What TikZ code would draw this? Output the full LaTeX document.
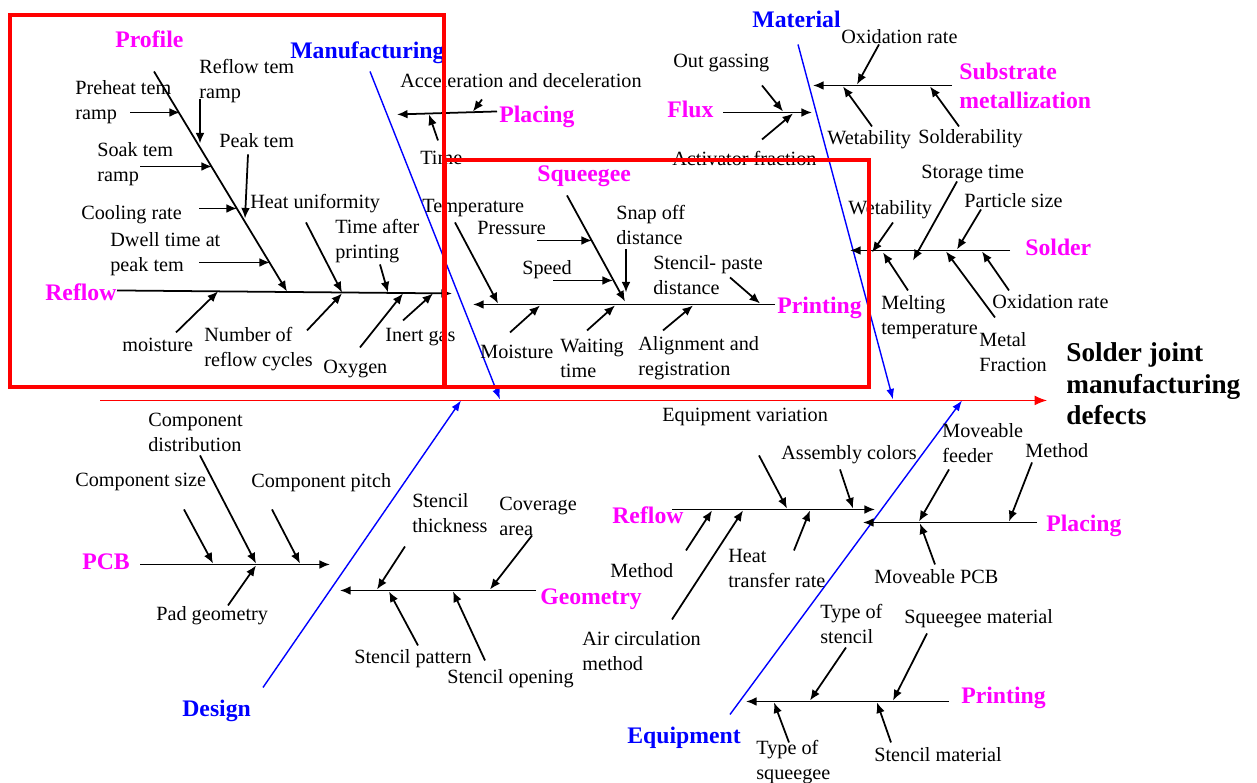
\documentclass[tikz,border=0pt]{standalone}
\usepackage{fontspec}
\setmainfont{Liberation Serif}
\usetikzlibrary{arrows.meta}
\definecolor{catmagenta}{RGB}{255,0,255}
\definecolor{bonecolor}{RGB}{0,0,255}

\begin{document}
\begin{tikzpicture}[x=0.02cm, y=-0.02cm,
	every node/.style={inner sep=0pt, anchor=west, align=left, yshift=-1.4pt, font=\fontsize{11.5}{14.2}\selectfont},
	cause/.style={draw, black, line width=1pt, -{Latex[length=6pt,width=5pt]}},
	bone/.style={draw, bonecolor, line width=0.8pt, -{Latex[length=6pt,width=4.5pt]}},
	subcat/.style={text=catmagenta, font=\fontsize{13.5}{16.4}\selectfont\bfseries},
	maincat/.style={text=bonecolor, font=\fontsize{13.5}{16}\selectfont\bfseries},
	redframe/.style={draw, red, line width=2.2pt}]

	%Bounding box
	\useasboundingbox (0,0) rectangle (1257,783);

	%Spine and effect
	\coordinate (sp-a) at (100,398); \coordinate (sp-b) at (1047,398);
	\draw[red, line width=0.6pt, -{Latex[length=7pt,width=5.5pt]}] (sp-a) -- (sp-b);
	\node[yshift=1.4pt, font=\fontsize{15.5}{18}\selectfont\bfseries] (effect) at (1066,384) {Solder joint\\ manufacturing\\ defects};

	%Main bones
	\coordinate (mf-a) at (370,69); \coordinate (mf-b) at (500,397);
	\draw[bone] (mf-a) -- (mf-b);
	\node[maincat] (manuf) at (290,50) {Manufacturing};
	\coordinate (mt-a) at (798,42); \coordinate (mt-b) at (893,397);
	\draw[bone] (mt-a) -- (mt-b);
	\node[maincat] (mater) at (752,17) {Material};
	\coordinate (dg-a) at (263,685); \coordinate (dg-b) at (461,398);
	\draw[bone] (dg-a) -- (dg-b);
	\node[maincat] (design) at (182,708) {Design};
	\coordinate (eq-a) at (730,712); \coordinate (eq-b) at (962,398);
	\draw[bone] (eq-a) -- (eq-b);
	\node[maincat] (equip) at (627,735) {Equipment};

	%Reflow (manufacturing)
	\coordinate (rf-a) at (117,288); \coordinate (rf-b) at (452,291);
	\draw[cause] (rf-a) -- (rf-b);
	\node[subcat] (reflow) at (45,290) {Reflow};
	\coordinate (pf-a) at (154,69); \coordinate (pf-b) at (287,289);
	\draw[cause] (pf-a) -- (pf-b);
	\node[subcat] (profile) at (115,37) {Profile};

	\node (preheat) at (75,99.5) {Preheat tem\\ ramp};
	\coordinate (ph-a) at (130,110); \coordinate (ph-b) at (180,110); \draw[cause] (ph-a) -- (ph-b);
	\node (rframp) at (199,79) {Reflow tem\\ ramp};
	\coordinate (rr-a) at (200,97); \coordinate (rr-b) at (200,141); \draw[cause] (rr-a) -- (rr-b);
	\node (soak) at (97,161.5) {Soak tem\\ ramp};
	\coordinate (sk-a) at (140,164); \coordinate (sk-b) at (212,164); \draw[cause] (sk-a) -- (sk-b);
	\node (peak) at (219,138) {Peak tem};
	\coordinate (pk-a) at (248,152); \coordinate (pk-b) at (245,216); \draw[cause] (pk-a) -- (pk-b);
	\node (cooling) at (81,212) {Cooling rate};
	\coordinate (cr-a) at (199,206); \coordinate (cr-b) at (237,206); \draw[cause] (cr-a) -- (cr-b);
	\node (dwell) at (110,251.5) {Dwell time at\\ peak tem};
	\coordinate (dw-a) at (199,260); \coordinate (dw-b) at (270,260); \draw[cause] (dw-a) -- (dw-b);
	\node (heatu) at (250,201) {Heat uniformity};
	\coordinate (hu-a) at (306,220); \coordinate (hu-b) at (342,290); \draw[cause] (hu-a) -- (hu-b);
	\node (tafter) at (335,238.5) {Time after\\ printing};
	\coordinate (ta-a) at (380,262); \coordinate (ta-b) at (388,290); \draw[cause] (ta-a) -- (ta-b);
	\node (moist1) at (122,342) {moisture};
	\coordinate (m1-a) at (176,330); \coordinate (m1-b) at (218,289); \draw[cause] (m1-a) -- (m1-b);
	\node (cycles) at (204,347) {Number of\\ reflow cycles};
	\coordinate (nc-a) at (307,328); \coordinate (nc-b) at (342,291); \draw[cause] (nc-a) -- (nc-b);
	\node (oxygen) at (323,367) {Oxygen};
	\coordinate (ox-a) at (360,345); \coordinate (ox-b) at (403,291); \draw[cause] (ox-a) -- (ox-b);
	\node (inert) at (385,335) {Inert gas};
	\coordinate (ig-a) at (403,318); \coordinate (ig-b) at (433,291); \draw[cause] (ig-a) -- (ig-b);

	%Placing (manufacturing)
	\coordinate (pl-a) at (497,109); \coordinate (pl-b) at (397,112);
	\draw[cause] (pl-a) -- (pl-b);
	\node[subcat] (placing1) at (499,114) {Placing};
	\node (accel) at (400,78) {Acceleration and deceleration};
	\coordinate (ac-a) at (482,97); \coordinate (ac-b) at (473,109); \draw[cause] (ac-a) -- (ac-b);
	\node (ptime) at (420,155) {Time};
	\coordinate (tm-a) at (438,138); \coordinate (tm-b) at (429,112); \draw[cause] (tm-a) -- (tm-b);

	%Printing (manufacturing)
	\coordinate (pr-a) at (775,302); \coordinate (pr-b) at (473,302);
	\draw[cause] (pr-a) -- (pr-b);
	\node[subcat] (printing1) at (777,305) {Printing};
	\coordinate (sq-a) at (567,193); \coordinate (sq-b) at (625,299);
	\draw[cause] (sq-a) -- (sq-b);
	\node[subcat] (squeegee) at (537,174) {Squeegee};
	\node (pressure) at (477,226) {Pressure};
	\coordinate (ps-a) at (537,238); \coordinate (ps-b) at (592,238); \draw[cause] (ps-a) -- (ps-b);
	\node (speed) at (522,267) {Speed};
	\coordinate (sd-a) at (553,278); \coordinate (sd-b) at (613,278); \draw[cause] (sd-a) -- (sd-b);
	\node (snap) at (616,222.5) {Snap off\\ distance};
	\coordinate (so-a) at (626,247); \coordinate (so-b) at (626,290); \draw[cause] (so-a) -- (so-b);
	\node (temp) at (422,206) {Temperature};
	\coordinate (te-a) at (455,220); \coordinate (te-b) at (498,301); \draw[cause] (te-a) -- (te-b);
	\node (stpaste) at (653,272.5) {Stencil- paste\\ distance};
	\coordinate (sp2-a) at (730,275); \coordinate (sp2-b) at (760,301); \draw[cause] (sp2-a) -- (sp2-b);
	\node (moist2) at (480,349) {Moisture};
	\coordinate (m2-a) at (510,330); \coordinate (m2-b) at (540,303); \draw[cause] (m2-a) -- (m2-b);
	\node (waiting) at (560,355.5) {Waiting\\ time};
	\coordinate (wt-a) at (587,328); \coordinate (wt-b) at (615,303); \draw[cause] (wt-a) -- (wt-b);
	\node (align) at (638,355.5) {Alignment and\\ registration};
	\coordinate (al-a) at (663,328); \coordinate (al-b) at (693,303); \draw[cause] (al-a) -- (al-b);

	%Flux (material)
	\coordinate (fx-a) at (723,110); \coordinate (fx-b) at (812,110);
	\draw[cause] (fx-a) -- (fx-b);
	\node[subcat] (flux) at (667,107) {Flux};
	\node (outgas) at (673,61) {Out gassing};
	\coordinate (og-a) at (762,83); \coordinate (og-b) at (783,109); \draw[cause] (og-a) -- (og-b);
	\node (activ) at (672,156) {Activator fraction};
	\coordinate (af-a) at (762,137); \coordinate (af-b) at (793,111); \draw[cause] (af-a) -- (af-b);

	%Substrate metallization (material)
	\coordinate (sb-a) at (952,83); \coordinate (sb-b) at (813,83);
	\draw[cause] (sb-a) -- (sb-b);
	\node[subcat] (substrate) at (959,83.5) {Substrate\\ metallization};
	\node (oxid1) at (841,34) {Oxidation rate};
	\coordinate (o1-a) at (879,42); \coordinate (o1-b) at (857,82); \draw[cause] (o1-a) -- (o1-b);
	\node (wet1) at (827,137) {Wetability};
	\coordinate (w1-a) at (872,124); \coordinate (w1-b) at (843,84); \draw[cause] (w1-a) -- (w1-b);
	\node (solderab) at (918,136) {Solderability};
	\coordinate (sa-a) at (959,124); \coordinate (sa-b) at (930,84); \draw[cause] (sa-a) -- (sa-b);

	%Solder (material)
	\coordinate (sl-a) at (1010,248); \coordinate (sl-b) at (850,248);
	\draw[cause] (sl-a) -- (sl-b);
	\node[subcat] (solder) at (1025,245) {Solder};
	\node (storage) at (921,172) {Storage time};
	\coordinate (st-a) at (957,179); \coordinate (st-b) at (913,258); \draw[cause] (st-a) -- (st-b);
	\node (particle) at (964,198) {Particle size};
	\coordinate (pa-a) at (981,207); \coordinate (pa-b) at (957,247); \draw[cause] (pa-a) -- (pa-b);
	\node (wet2) at (848,207) {Wetability};
	\coordinate (w2-a) at (893,220); \coordinate (w2-b) at (872,250); \draw[cause] (w2-a) -- (w2-b);
	\node (melting) at (881,314.5) {Melting\\ temperature};
	\coordinate (me-a) at (908,288); \coordinate (me-b) at (883,250); \draw[cause] (me-a) -- (me-b);
	\node (oxid2) at (992,299) {Oxidation rate};
	\coordinate (o2-a) at (1009,288); \coordinate (o2-b) at (982,249); \draw[cause] (o2-a) -- (o2-b);
	\node (metal) at (979,350) {Metal\\ Fraction};
	\coordinate (mf2-a) at (995,315); \coordinate (mf2-b) at (946,249); \draw[cause] (mf2-a) -- (mf2-b);

	%PCB (design)
	\coordinate (pc-a) at (140,562); \coordinate (pc-b) at (330,562);
	\draw[cause] (pc-a) -- (pc-b);
	\node[subcat] (pcb) at (82,559) {PCB};
	\node (compdist) at (148,430) {Component\\ distribution};
	\coordinate (cd-a) at (200,453); \coordinate (cd-b) at (256,561); \draw[cause] (cd-a) -- (cd-b);
	\node (compsize) at (75,480) {Component size};
	\coordinate (cs-a) at (184,507); \coordinate (cs-b) at (213,561); \draw[cause] (cs-a) -- (cs-b);
	\node (comppitch) at (251,480) {Component pitch};
	\coordinate (cp-a) at (272,507); \coordinate (cp-b) at (300,561); \draw[cause] (cp-a) -- (cp-b);
	\node (pad) at (156,613) {Pad geometry};
	\coordinate (pg-a) at (228,603); \coordinate (pg-b) at (256,563); \draw[cause] (pg-a) -- (pg-b);

	%Geometry (design)
	\coordinate (ge-a) at (536,588); \coordinate (ge-b) at (340,588);
	\draw[cause] (ge-a) -- (ge-b);
	\node[subcat] (geometry) at (540,597) {Geometry};
	\node (thick) at (412,510.5) {Stencil\\ thickness};
	\coordinate (th-a) at (405,544); \coordinate (th-b) at (377,587); \draw[cause] (th-a) -- (th-b);
	\node (coverage) at (499,513.5) {Coverage\\ area};
	\coordinate (cv-a) at (532,533); \coordinate (cv-b) at (490,587); \draw[cause] (cv-a) -- (cv-b);
	\node (pattern) at (354,656) {Stencil pattern};
	\coordinate (pt-a) at (418,643); \coordinate (pt-b) at (389,589); \draw[cause] (pt-a) -- (pt-b);
	\node (opening) at (447,676) {Stencil opening};
	\coordinate (op-a) at (485,658); \coordinate (op-b) at (453,589); \draw[cause] (op-a) -- (op-b);

	%Reflow (equipment)
	\coordinate (rf2-a) at (672,507); \coordinate (rf2-b) at (875,507);
	\draw[cause] (rf2-a) -- (rf2-b);
	\node[subcat] (reflow2) at (612,513) {Reflow};
	\node (eqvar) at (662,415) {Equipment variation};
	\coordinate (ev-a) at (759,453); \coordinate (ev-b) at (787,506); \draw[cause] (ev-a) -- (ev-b);
	\node (colors) at (781,452) {Assembly colors};
	\coordinate (ab-a) at (840,467); \coordinate (ab-b) at (853,506); \draw[cause] (ab-a) -- (ab-b);
	\node (method1) at (610,568) {Method};
	\coordinate (mh1-a) at (686,548); \coordinate (mh1-b) at (712,508); \draw[cause] (mh1-a) -- (mh1-b);
	\node (aircirc) at (582,648.5) {Air circulation\\ method};
	\coordinate (ai-a) at (672,617); \coordinate (ai-b) at (743,508); \draw[cause] (ai-a) -- (ai-b);
	\node (heattr) at (728,566) {Heat\\ transfer rate};
	\coordinate (ht-a) at (794,548); \coordinate (ht-b) at (810,508); \draw[cause] (ht-a) -- (ht-b);

	%Placing (equipment)
	\coordinate (pl2-a) at (1037,520); \coordinate (pl2-b) at (863,520);
	\draw[cause] (pl2-a) -- (pl2-b);
	\node[subcat] (placing2) at (1046,523) {Placing};
	\node (feeder) at (942,441) {Moveable\\ feeder};
	\coordinate (fd-a) at (949,467); \coordinate (fd-b) at (919,519); \draw[cause] (fd-a) -- (fd-b);
	\node (method2) at (1025,448) {Method};
	\coordinate (mh2-a) at (1032,460); \coordinate (mh2-b) at (1009,519); \draw[cause] (mh2-a) -- (mh2-b);
	\node (movepcb) at (874,574) {Moveable PCB};
	\coordinate (mp-a) at (935,562); \coordinate (mp-b) at (920,521); \draw[cause] (mp-a) -- (mp-b);

	%Printing (equipment)
	\coordinate (pr2-a) at (949,699); \coordinate (pr2-b) at (746,699);
	\draw[cause] (pr2-a) -- (pr2-b);
	\node[subcat] (printing2) at (961,695) {Printing};
	\node (tstencil) at (820,621.5) {Type of\\ stencil};
	\coordinate (ts-a) at (846,645); \coordinate (ts-b) at (810,698); \draw[cause] (ts-a) -- (ts-b);
	\node (sqmat) at (904,616) {Squeegee material};
	\coordinate (sm-a) at (927,631); \coordinate (sm-b) at (893,698); \draw[cause] (sm-a) -- (sm-b);
	\node (tsqueegee) at (756,760) {Type of\\ squeegee};
	\coordinate (tq-a) at (789,740); \coordinate (tq-b) at (774,700); \draw[cause] (tq-a) -- (tq-b);
	\node (stmat) at (874,752) {Stencil material};
	\coordinate (sn-a) at (891,740); \coordinate (sn-b) at (877,700); \draw[cause] (sn-a) -- (sn-b);

	%Frames
	\draw[redframe] (10,15) rectangle (444,387);
	\draw[redframe] (445,160) rectangle (869,387);
\end{tikzpicture}
\end{document}
